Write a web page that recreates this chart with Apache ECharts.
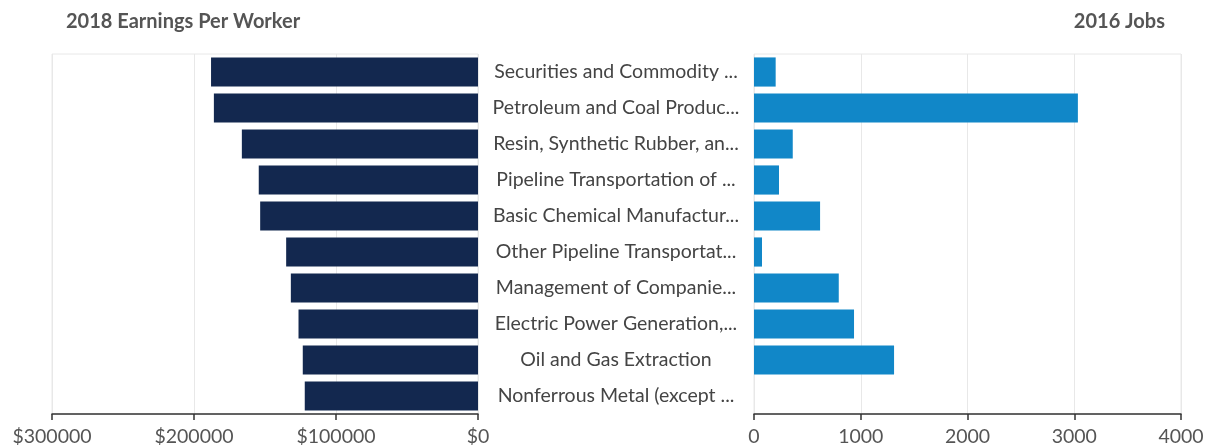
<!DOCTYPE html>
<html>
<head>
<meta charset="utf-8">
<script src="https://cdn.jsdelivr.net/npm/echarts@6/dist/echarts.min.js"></script>
<style>
html,body{margin:0;padding:0;background:#fff;}
#c{width:1212px;height:448px;}
</style>
</head>
<body>
<div id="c"></div>
<script>
const categories = [
  "Securities and Commodity ...",
  "Petroleum and Coal Produc...",
  "Resin, Synthetic Rubber, an...",
  "Pipeline Transportation of ...",
  "Basic Chemical Manufactur...",
  "Other Pipeline Transportat...",
  "Management of Companie...",
  "Electric Power Generation,...",
  "Oil and Gas Extraction",
  "Nonferrous Metal (except ..."
];
const earnings2018 = [188000, 186000, 166300, 154400, 153400, 135100, 131800, 126400, 123400, 122000];
const jobs2016 = [203, 3034, 363, 234, 619, 75, 794, 937, 1312, 0];
const earningsTicks = [0, 100000, 200000, 300000];
const jobsTicks = [0, 1000, 2000, 3000, 4000];

const FONT = 'Lato';
const chart = echarts.init(document.getElementById('c'));
const axisLine = {show: true, lineStyle: {color: '#333', width: 1.5}};
const axisTick = {show: true, length: 6, lineStyle: {color: '#333', width: 1.5}};
const splitLine = {show: true, lineStyle: {color: '#e8e8e8', width: 1}};
const tickLabel = {color: '#555', fontFamily: FONT, fontSize: 19.5, margin: 13};

chart.setOption({
  animation: false,
  title: [
    {text: '2018 Earnings Per Worker', left: 61, top: 7,
     textStyle: {fontFamily: FONT, fontSize: 20, fontWeight: 'bold', color: '#555'}},
    {text: '2016 Jobs', right: 42, top: 7,
     textStyle: {fontFamily: FONT, fontSize: 20, fontWeight: 'bold', color: '#555'}}
  ],
  grid: [
    {left: 52, right: 734, top: 54, bottom: 34, show: true, borderColor: '#e8e8e8', borderWidth: 1},
    {left: 754, right: 31, top: 54, bottom: 34, show: true, borderColor: '#e8e8e8', borderWidth: 1}
  ],
  xAxis: [
    {type: 'value', gridIndex: 0, inverse: true, min: earningsTicks[0], max: earningsTicks[earningsTicks.length-1],
     interval: 100000, axisLine, axisTick, splitLine,
     axisLabel: Object.assign({}, tickLabel, {formatter: v => '$' + v})},
    {type: 'value', gridIndex: 1, min: jobsTicks[0], max: jobsTicks[jobsTicks.length-1],
     interval: 1000, axisLine, axisTick, splitLine,
     axisLabel: Object.assign({}, tickLabel, {formatter: v => String(v)})}
  ],
  yAxis: [
    {type: 'category', gridIndex: 0, data: categories, inverse: true,
     axisLine: {show: false}, axisTick: {show: false}, axisLabel: {show: false}, splitLine: {show: false}},
    {type: 'category', gridIndex: 1, data: categories, inverse: true,
     axisLine: {show: false}, axisTick: {show: false}, splitLine: {show: false},
     axisLabel: {show: true, align: 'center', margin: 138, color: '#444', fontFamily: FONT, fontSize: 19.5,
                 padding: [4, 0, 0, 0]}}
  ],
  series: [
    {type: 'bar', xAxisIndex: 0, yAxisIndex: 0, data: earnings2018, barCategoryGap: '19%',
     itemStyle: {color: '#13284f'}},
    {type: 'bar', xAxisIndex: 1, yAxisIndex: 1, data: jobs2016, barCategoryGap: '19%',
     itemStyle: {color: '#1187c8'}}
  ]
});
</script>
</body>
</html>
